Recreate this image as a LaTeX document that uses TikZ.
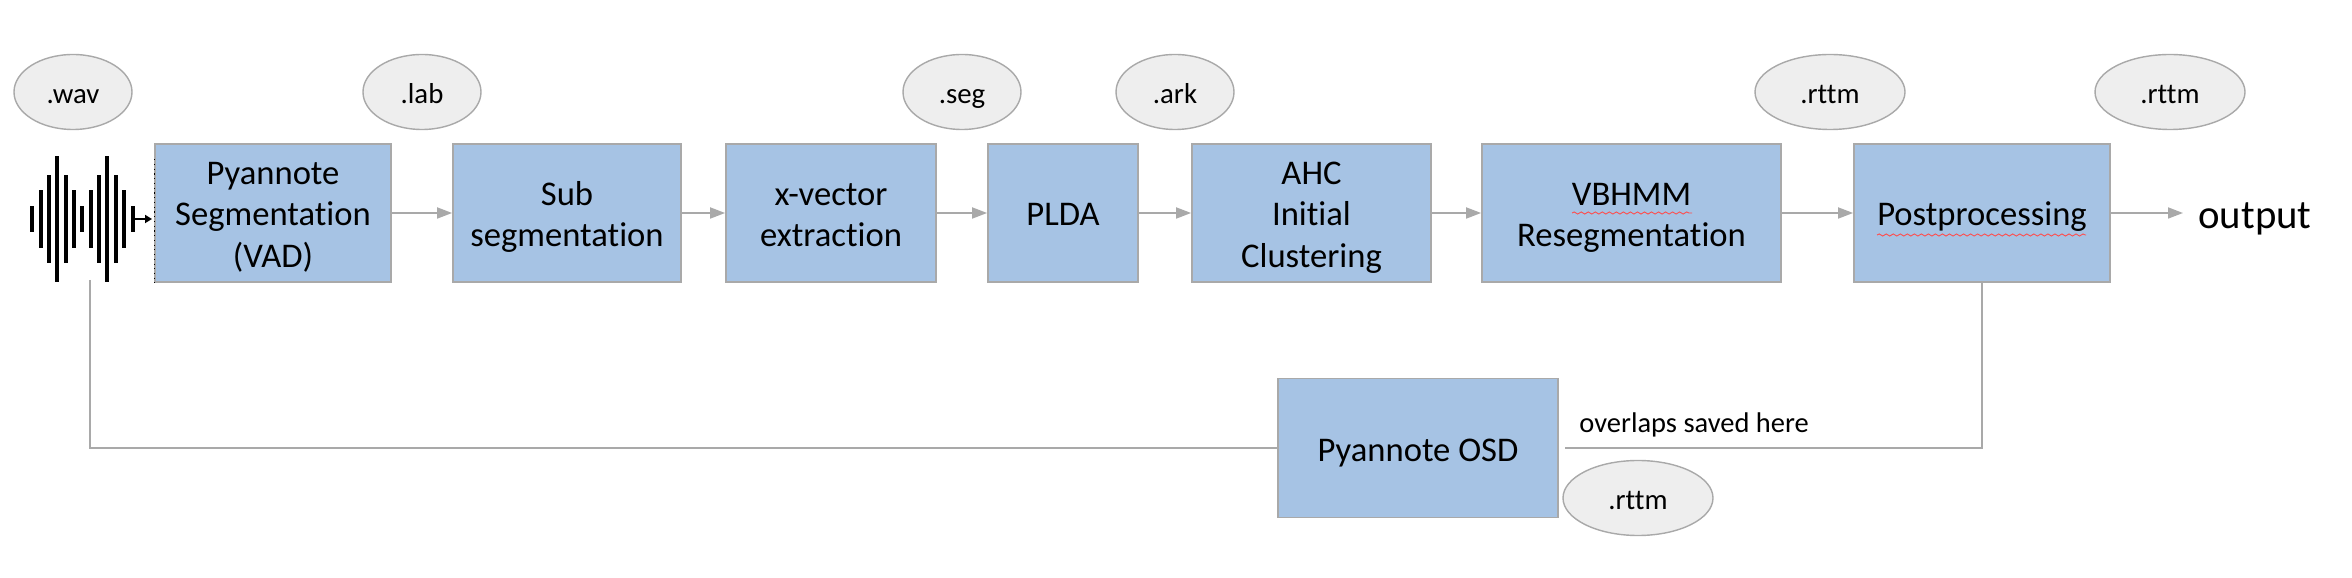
\documentclass[tikz,border=0pt]{standalone}
\usepackage{fontspec}
\setmainfont[Ligatures=NoCommon]{Carlito}
\usetikzlibrary{arrows.meta, shapes.geometric, decorations.pathmorphing}
\definecolor{boxblue}{HTML}{A6C3E4}
\definecolor{edgegray}{HTML}{A9A9A9}
\definecolor{tagfill}{HTML}{EEEEEE}
\begin{document}
\begin{tikzpicture}[
        block/.style={draw=edgegray, line width=0.5pt, fill=boxblue, align=center, inner sep=0pt, minimum height=1.38cm, font=\fontsize{9.85}{11.7}\selectfont,
            text height=7.4pt, text depth=0pt},
        twolines/.style={block, text height=19.1pt},
        threelines/.style={block, text height=30.8pt},
        tag/.style={ellipse, draw=edgegray, line width=0.4pt, fill=tagfill, inner sep=0pt, minimum height=0.75cm, minimum width=1.18cm, font=\fontsize{8.2}{10}\selectfont,
            text height=6.8pt, text depth=0pt},
        line/.style={draw=edgegray, line width=0.5pt},
        arr/.style={line, -{Triangle[length=1.5mm, width=1.1mm]}},
        bar/.style={line width=1.15pt, black},
        squiggle/.style={draw=red!70!white, line width=0.25pt, decorate, decoration={snake, amplitude=0.3pt, segment length=2pt}}
    ]
        \useasboundingbox (0, 0) rectangle (23.52, -5.78);
        % -- main row --
        \node[threelines, minimum width=2.36cm] (vad)    at (2.73, -2.13)  {Pyannote\\Segmentation\\(VAD)};
        \node[twolines, minimum width=2.28cm] (subseg) at (5.67, -2.13)  {Sub\\segmentation};
        \node[twolines, minimum width=2.10cm] (xvec)   at (8.31, -2.13)  {x-vector\\extraction};
        \node[block, minimum width=1.50cm] (plda)  at (10.63, -2.13) {PLDA};
        \node[threelines, minimum width=2.39cm] (ahc)    at (13.115, -2.13) {AHC\\Initial\\Clustering};
        \node[twolines, minimum width=2.99cm] (vbhmm)  at (16.315, -2.13) {VBHMM\\Resegmentation};
        \node[block, minimum width=2.56cm] (post)  at (19.82, -2.13) {Postprocessing};
        \node[block, minimum width=2.80cm, minimum height=1.39cm] (osd) at (14.18, -4.48) {Pyannote OSD};
        \node[font=\fontsize{11.6}{13}\selectfont] (output) at (22.55, -2.19) {output};
        \node[font=\fontsize{8.1}{9}\selectfont, anchor=west] (saved) at (15.67, -4.25) {overlaps saved here};
        % -- file tags --
        \node[tag] (wav)   at (0.73, -0.92)  {.wav};
        \node[tag] (lab)   at (4.22, -0.92)  {.lab};
        \node[tag] (seg)   at (9.62, -0.92)  {.seg};
        \node[tag] (ark)   at (11.75, -0.92) {.ark};
        \node[tag, minimum width=1.50cm] (rttm1) at (18.30, -0.92) {.rttm};
        \node[tag, minimum width=1.50cm] (rttm2) at (21.70, -0.92) {.rttm};
        \node[tag, minimum width=1.50cm] (rttm3) at (16.38, -4.98) {.rttm};

        % waveform
        \foreach \xpos/\halfh in {0.32/0.13, 0.41/0.29, 0.49/0.44, 0.57/0.63, 0.66/0.44, 0.74/0.29, 0.82/0.13, 0.91/0.29, 0.99/0.44, 1.07/0.63, 1.16/0.44, 1.24/0.29, 1.33/0.13}
            \draw[bar] (\xpos, -2.19-\halfh) -- (\xpos, -2.19+\halfh);
        \coordinate (wavein) at (1.33, -2.19);
        \coordinate (wavetap) at (0.90, -2.80);
        \draw[black, line width=0.5pt, shorten >=0.6pt, -{Triangle[length=0.7mm, width=0.8mm]}] (wavein) -- (wavein -| vad.west);
        \draw[black, line width=0.35pt, densely dotted] (vad.north west) ++(0, -0.16) -- (vad.south west);

        % row arrows
        \draw[arr] (vad) -- (subseg);
        \draw[arr] (subseg) -- (xvec);
        \draw[arr] (xvec) -- (plda);
        \draw[arr] (plda) -- (ahc);
        \draw[arr] (ahc) -- (vbhmm);
        \draw[arr] (vbhmm) -- (post);
        \coordinate (outend) at (21.83, -2.13);
        \draw[arr] (post) -- (outend);

        % overlap branch
        \coordinate (osdright) at (15.65, -4.48);
        \draw[line] (wavetap) |- (osd.west);
        \draw[line] (post.south) |- (osdright);

        % spell-check marks
        \draw[squiggle] (15.72, -2.13) -- (16.92, -2.13);
        \draw[squiggle] (18.77, -2.35) -- (20.86, -2.35);
    \end{tikzpicture}
\end{document}
